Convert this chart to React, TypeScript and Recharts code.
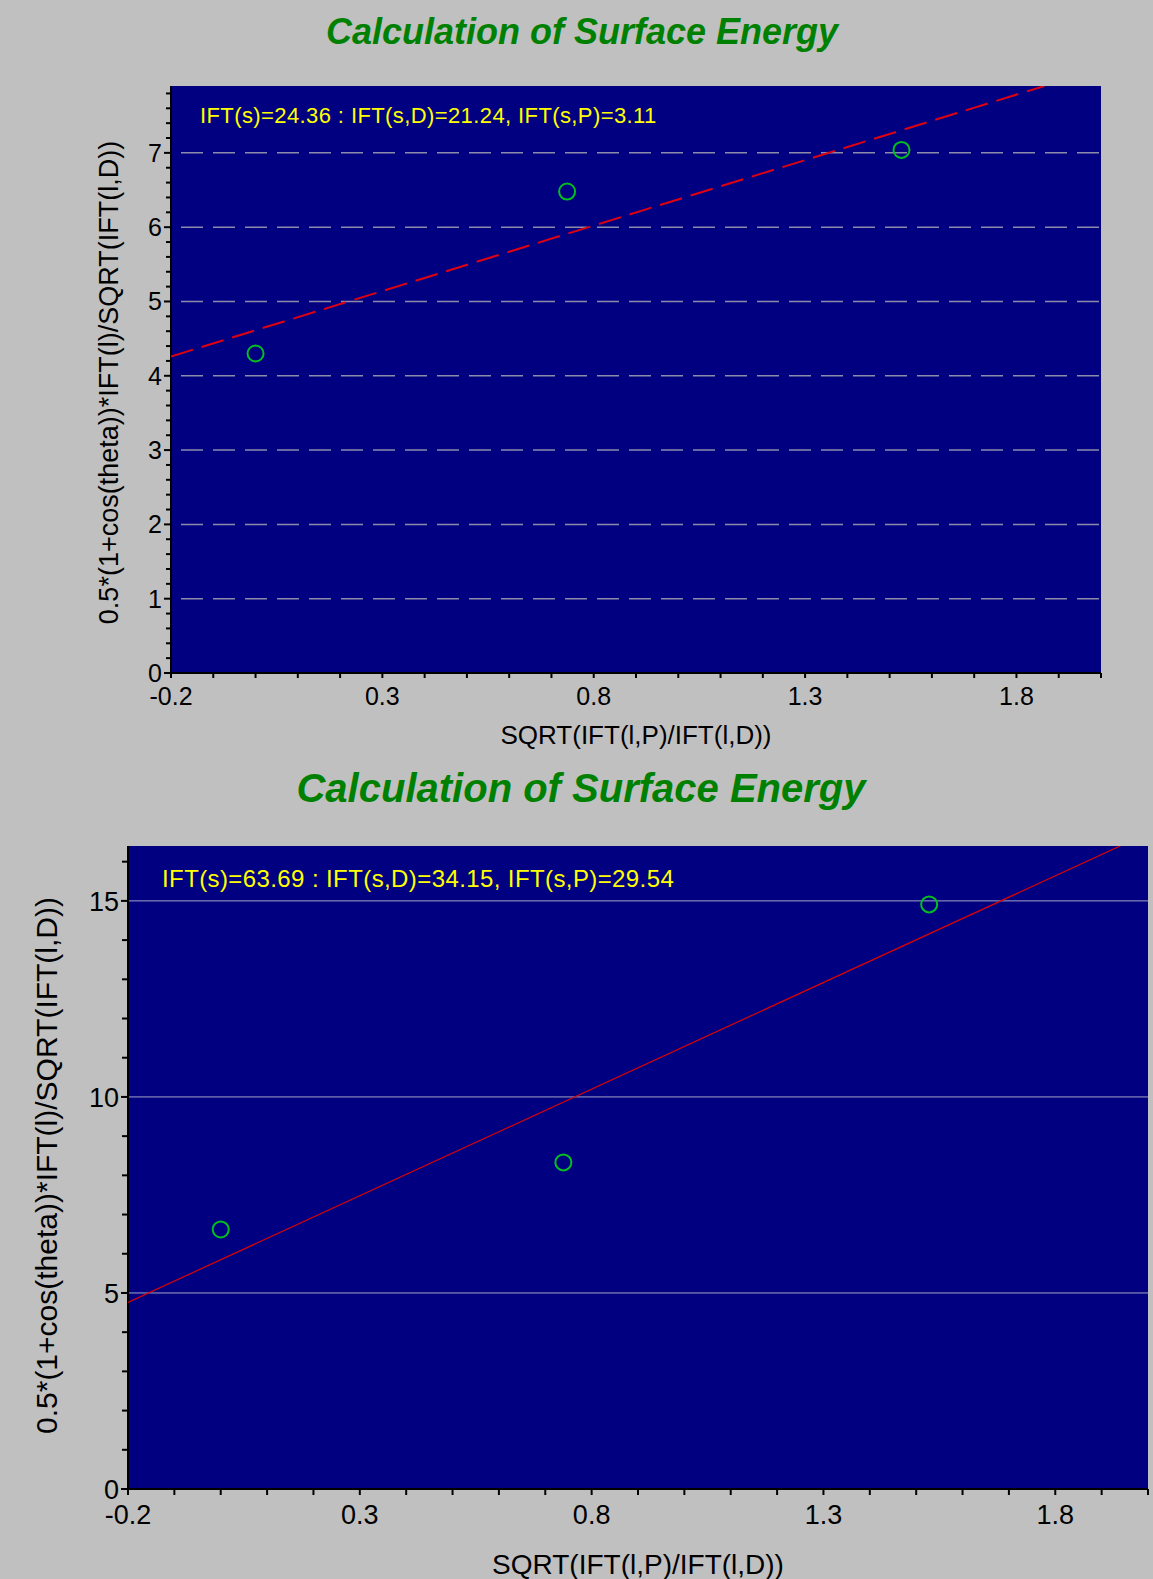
import React from "react";
import { ScatterChart, Scatter, XAxis, YAxis, CartesianGrid, ReferenceLine } from "recharts";

// shared x axis labels
const X_LABELS = [-0.2, 0.3, 0.8, 1.3, 1.8];

// top chart
const TOP_X = [0.0, 0.737, 1.528];
const TOP_Y = [4.3, 6.48, 7.04];
const TOP_FIT_X = [-0.2, 1.866];
const TOP_FIT_Y = [4.26, 7.9];
const TOP_Y_LABELS = [0, 1, 2, 3, 4, 5, 6, 7];
const TOP_GRID = [1, 2, 3, 4, 5, 6, 7];
const TOP_NOTE = "IFT(s)=24.36 : IFT(s,D)=21.24, IFT(s,P)=3.11";

// bottom chart
const BOT_X = [0.0, 0.739, 1.528];
const BOT_Y = [6.62, 8.33, 14.91];
const BOT_FIT_X = [-0.2, 1.94];
const BOT_FIT_Y = [4.76, 16.4];
const BOT_Y_LABELS = [0, 5, 10, 15];
const BOT_GRID = [5, 10, 15];
const BOT_NOTE = "IFT(s)=63.69 : IFT(s,D)=34.15, IFT(s,P)=29.54";

const TITLE = "Calculation of Surface Energy";
const X_TITLE = "SQRT(IFT(l,P)/IFT(l,D))";
const Y_TITLE = "0.5*(1+cos(theta))*IFT(l)/SQRT(IFT(l,D))";

const FONT = "'Liberation Sans', Arial, sans-serif";
const NAVY = "#000080";

function steps(from: number, to: number, step: number) {
  const out: number[] = [];
  for (let v = from; v <= to + 1e-9; v += step) out.push(Math.round(v * 1000) / 1000);
  return out;
}

const isMajor = (v: number, list: number[]) => list.some((m) => Math.abs(m - v) < 1e-6);

const toPoints = (xs: number[], ys: number[]) => xs.map((x, i) => ({ x, y: ys[i] }));

const Ring = (props: any) => (
  <circle cx={props.cx} cy={props.cy} r={8} fill="none" stroke="#00c020" strokeWidth={2} />
);

interface PanelProps {
  height: number;
  margin: { top: number; right: number; bottom: number; left: number };
  xs: number[];
  ys: number[];
  fitX: number[];
  fitY: number[];
  yMax: number;
  yStep: number;
  yLabels: number[];
  grid: number[];
  gridStyle: { stroke: string; strokeWidth: number; strokeDasharray?: string; strokeDashoffset?: number };
  fitStyle: { stroke: string; strokeWidth: number; strokeDasharray?: string };
  tickFont: number;
  yMajorLen: number;
  yMinorLen: number;
  xTickLen: number;
  yTitleFont: number;
  yTitleBaseline: number;
  yTitleDy: number;
  xTitleFont: number;
  xTitleBaseline: number;
  xTickBaseline: number;
}

function Panel(p: PanelProps) {
  const xTicks = steps(-0.2, 2.0, 0.1);
  const yTicks = steps(0, p.yMax, p.yStep);

  const XTick = (t: any) => {
    const v = t.payload.value;
    const major = isMajor(v, X_LABELS);
    return (
      <g>
        <line x1={t.x} y1={t.y} x2={t.x} y2={t.y + p.xTickLen} stroke="#000" strokeWidth={2} />
        {major && (
          <text x={t.x} y={t.y + p.xTickBaseline} textAnchor="middle" fontSize={p.tickFont} fontFamily={FONT} fill="#000">
            {v.toFixed(1)}
          </text>
        )}
      </g>
    );
  };

  const YTick = (t: any) => {
    const v = t.payload.value;
    const major = isMajor(v, p.yLabels);
    return (
      <g>
        <line x1={t.x - (major ? p.yMajorLen : p.yMinorLen)} y1={t.y} x2={t.x} y2={t.y} stroke="#000" strokeWidth={2} />
        {major && (
          <text x={t.x - 9} y={t.y} dy="0.36em" textAnchor="end" fontSize={p.tickFont} fontFamily={FONT} fill="#000">
            {v}
          </text>
        )}
      </g>
    );
  };

  return (
    <ScatterChart width={1153} height={p.height} margin={p.margin}>
      <CartesianGrid fill={NAVY} fillOpacity={1} stroke="none" horizontal={false} vertical={false} />
      <XAxis
        type="number"
        dataKey="x"
        domain={[-0.2, 2.0]}
        allowDataOverflow
        ticks={xTicks}
        interval={0}
        height={40}
        tickSize={0}
        tickMargin={0}
        tickLine={false}
        axisLine={{ stroke: "#000", strokeWidth: 2 }}
        tick={XTick}
        label={{
          content: (l: any) => {
            const vb = l.viewBox;
            return (
              <text x={vb.x + vb.width / 2} y={vb.y + p.xTitleBaseline} textAnchor="middle" fontSize={p.xTitleFont} fontFamily={FONT} fill="#000">
                {X_TITLE}
              </text>
            );
          },
        }}
      />
      <YAxis
        type="number"
        dataKey="y"
        domain={[0, p.yMax]}
        allowDataOverflow
        ticks={yTicks}
        interval={0}
        width={60}
        tickSize={0}
        tickMargin={0}
        tickLine={false}
        axisLine={{ stroke: "#000", strokeWidth: 2 }}
        tick={YTick}
        label={{
          content: (l: any) => {
            const vb = l.viewBox;
            const cx = vb.x + vb.width - p.yTitleBaseline;
            const cy = vb.y + vb.height / 2 + p.yTitleDy;
            return (
              <text x={cx} y={cy} transform={`rotate(-90 ${cx} ${cy})`} textAnchor="middle" fontSize={p.yTitleFont} fontFamily={FONT} fill="#000">
                {Y_TITLE}
              </text>
            );
          },
        }}
      />
      {p.grid.map((g) => (
        <ReferenceLine key={g} y={g} {...p.gridStyle} />
      ))}
      <Scatter data={toPoints(p.fitX, p.fitY)} line={p.fitStyle} shape={() => <g />} isAnimationActive={false} />
      <Scatter data={toPoints(p.xs, p.ys)} shape={Ring} isAnimationActive={false} />
    </ScatterChart>
  );
}

export default function App() {
  return (
    <div style={{ position: "absolute", left: 0, top: 0, width: 1153, height: 1579, background: "#c0c0c0", overflow: "hidden" }}>
      <div style={{ position: "absolute", left: 0, top: 0 }}>
        <Panel
          height={760}
          margin={{ top: 86, right: 52, bottom: 47, left: 111 }}
          xs={TOP_X}
          ys={TOP_Y}
          fitX={TOP_FIT_X}
          fitY={TOP_FIT_Y}
          yMax={7.9}
          yStep={0.2}
          yLabels={TOP_Y_LABELS}
          grid={TOP_GRID}
          gridStyle={{ stroke: "#8c8caa", strokeWidth: 1.5, strokeDasharray: "22 10", strokeDashoffset: 22 }}
          fitStyle={{ stroke: "#e00010", strokeWidth: 2, strokeDasharray: "23 9" }}
          tickFont={25}
          yMajorLen={7}
          yMinorLen={5}
          xTickLen={5}
          yTitleFont={27}
          yTitleBaseline={53}
          yTitleDy={3}
          xTitleFont={26}
          xTitleBaseline={71}
          xTickBaseline={32}
        />
      </div>
      <div style={{ position: "absolute", left: 0, top: 760 }}>
        <Panel
          height={819}
          margin={{ top: 86, right: 5, bottom: 50, left: 68 }}
          xs={BOT_X}
          ys={BOT_Y}
          fitX={BOT_FIT_X}
          fitY={BOT_FIT_Y}
          yMax={16.4}
          yStep={1}
          yLabels={BOT_Y_LABELS}
          grid={BOT_GRID}
          gridStyle={{ stroke: "#a4a4c4", strokeWidth: 1 }}
          fitStyle={{ stroke: "#e00000", strokeWidth: 1.2 }}
          tickFont={27}
          yMajorLen={7}
          yMinorLen={6}
          xTickLen={6}
          yTitleFont={30}
          yTitleBaseline={71}
          yTitleDy={-2}
          xTitleFont={28}
          xTitleBaseline={85}
          xTickBaseline={35}
        />
      </div>
      <svg width={1153} height={1579} style={{ position: "absolute", left: 0, top: 0, pointerEvents: "none" }}>
        <text x={582} y={44} textAnchor="middle" fontSize={36} fontWeight="bold" fontStyle="italic" fontFamily={FONT} fill="#008000">
          {TITLE}
        </text>
        <text x={200} y={123} fontSize={22} letterSpacing={0.4} fontFamily={FONT} fill="#ffff00">
          {TOP_NOTE}
        </text>
        <text x={581} y={802} textAnchor="middle" fontSize={40} fontWeight="bold" fontStyle="italic" fontFamily={FONT} fill="#008000">
          {TITLE}
        </text>
        <text x={162} y={887} fontSize={24} letterSpacing={0.4} fontFamily={FONT} fill="#ffff00">
          {BOT_NOTE}
        </text>
      </svg>
    </div>
  );
}
